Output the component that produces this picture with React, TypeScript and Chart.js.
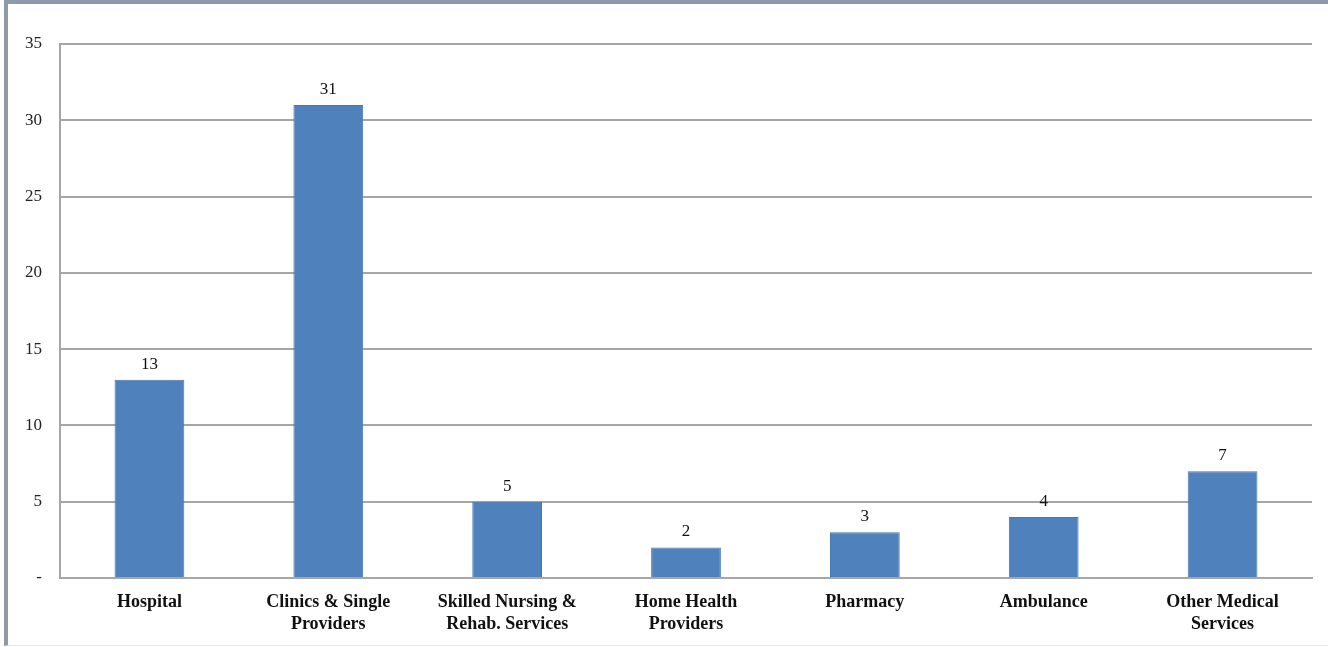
import React, { useEffect, useRef } from "react";
import { Chart, registerables } from "chart.js";

Chart.register(...registerables);

const categories: (string | string[])[] = [
  "Hospital",
  ["Clinics & Single", "Providers"],
  ["Skilled Nursing &", "Rehab. Services"],
  ["Home Health", "Providers"],
  "Pharmacy",
  "Ambulance",
  ["Other Medical", "Services"],
];
const counts: number[] = [13, 31, 5, 2, 3, 4, 7];
const yMax = 35;
const yStep = 5;

const valueLabels = {
  id: "valueLabels",
  afterDatasetsDraw(chart: any) {
    const ctx = chart.ctx;
    const meta = chart.getDatasetMeta(0);
    ctx.save();
    ctx.font = "17px 'Liberation Serif', serif";
    ctx.fillStyle = "#111";
    ctx.textAlign = "center";
    ctx.textBaseline = "bottom";
    meta.data.forEach((bar: any, i: number) => {
      ctx.fillText(String(counts[i]), bar.x, bar.y - 7);
    });
    ctx.restore();
  },
};

export default function App() {
  const ref = useRef<HTMLCanvasElement>(null);
  useEffect(() => {
    document.body.style.margin = "0";
    const chart = new Chart(ref.current!, {
      type: "bar",
      data: {
        labels: categories,
        datasets: [
          {
            data: counts,
            backgroundColor: "#4f81bd",
            borderColor: "#4476b2",
            borderWidth: 1,
            categoryPercentage: 1,
            barPercentage: 0.39,
          },
        ],
      },
      options: {
        animation: false,
        responsive: false,
        maintainAspectRatio: false,
        layout: { padding: { left: 0, right: 16, top: 44, bottom: 0 } },
        plugins: { legend: { display: false }, tooltip: { enabled: false } },
        scales: {
          x: {
            grid: { display: false, drawTicks: false },
            border: { color: "#a6a6a6", width: 2 },
            ticks: {
              color: "#111",
              padding: 14,
              maxRotation: 0,
              autoSkip: false,
              font: { family: "'Liberation Serif', serif", size: 18, weight: "bold", lineHeight: 1.2 },
            },
            afterFit: (s: any) => {
              s.height = 69;
            },
          },
          y: {
            min: 0,
            max: yMax,
            ticks: {
              stepSize: yStep,
              color: "#222",
              padding: 18,
              font: { family: "'Liberation Serif', serif", size: 17 },
              callback: (v: any) => (Number(v) === 0 ? "-" : String(v)),
            },
            grid: { color: "#a6a6a6", lineWidth: 2, drawTicks: false },
            border: { color: "#a6a6a6", width: 2 },
            afterFit: (s: any) => {
              s.width = 60;
            },
          },
        },
      },
      plugins: [valueLabels],
    });
    return () => chart.destroy();
  }, []);
  return (
    <div style={{ position: "relative", width: 1328, height: 647, background: "#fff" }}>
      <canvas ref={ref} width={1328} height={647} style={{ position: "absolute", left: 0, top: 0 }} />
      <div
        style={{
          position: "absolute",
          left: 4,
          top: 0,
          width: 1320,
          height: 641,
          borderTop: "4px solid #8e99a9",
          borderLeft: "4px solid #8e99a9",
          borderRight: "1px solid #d3d7dd",
          borderBottom: "1px solid #e3e5e8",
          pointerEvents: "none",
        }}
      />
    </div>
  );
}
